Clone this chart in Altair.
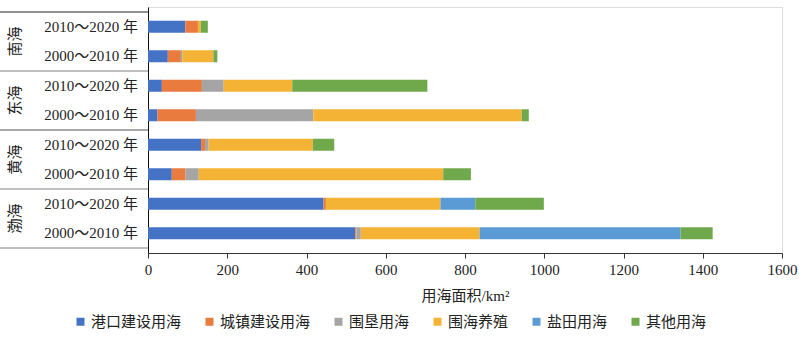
import altair as alt
import pandas as pd

# ---- data ----
regions = ["南海", "东海", "黄海", "渤海"]
periods = ["2010～2020 年", "2000～2010 年"]
categories = ["港口建设用海", "城镇建设用海", "围垦用海", "围海养殖", "盐田用海", "其他用海"]
colors = ["#4472C4", "#E97B3F", "#A5A5A5", "#F5B335", "#5B9BD5", "#70A84C"]

# rows top to bottom: 南海 2010-2020, 南海 2000-2010, 东海 ..., 黄海 ..., 渤海 ...
port = [94, 50, 35, 24, 134, 60, 443, 523]
urban = [32, 33, 101, 97, 10, 35, 6, 3]
reclaim = [0, 4, 55, 296, 9, 33, 0, 11]
aqua = [7, 78, 173, 526, 263, 617, 289, 300]
salt = [0, 0, 0, 0, 0, 0, 88, 507]
other = [18, 10, 341, 18, 54, 70, 173, 81]

x_ticks = [0, 200, 400, 600, 800, 1000, 1200, 1400, 1600]

FONT = "Liberation Serif, Noto Sans CJK SC"
series = [port, urban, reclaim, aqua, salt, other]

rows = []
lab_rows = []
for i in range(8):
    region = regions[i // 2]
    period = periods[i % 2]
    start = 0
    for k, (cat, s) in enumerate(zip(categories, series)):
        v = s[i]
        rows.append(dict(row=i + 0.5, region=region, period=period, cat=cat,
                         value=v, start=start, end=start + v, k=k))
        start += v
    lab_rows.append(dict(row=i + 0.5, period=period))
df = pd.DataFrame(rows)
df_lab = pd.DataFrame(lab_rows)
df_grp = pd.DataFrame(dict(row=[1, 3, 5, 7], region=regions))
df_sep = pd.DataFrame(dict(row=[0, 2, 4, 6, 8],
                           col=["#222222", "#808080", "#555555", "#808080", "#808080"]))

yscale = alt.Scale(domain=[0, 8], reverse=True, nice=False, zero=False)

bars = alt.Chart(df).mark_bar(size=12, orient="horizontal").encode(
    x=alt.X("start:Q",
            scale=alt.Scale(domain=[0, 1600], nice=False),
            axis=alt.Axis(values=x_ticks, format="d", title="用海面积/km²", grid=False,
                          labelFont=FONT, labelFontSize=15, labelColor="#222",
                          titleFont=FONT, titleFontSize=15, titleFontWeight="normal",
                          titleColor="#222", titlePadding=11, labelPadding=4,
                          tickSize=5, tickColor="#333", domainColor="#333",
                          labelFlush=False)),
    x2="end:Q",
    y=alt.Y("row:Q", scale=yscale,
            axis=alt.Axis(labels=False, ticks=False, grid=False, title=None,
                          domainColor="#111")),
    color=alt.Color("cat:N", scale=alt.Scale(domain=categories, range=colors),
                    legend=alt.Legend(title=None, orient="none", direction="horizontal",
                                      columns=6, columnPadding=20, legendX=-75, legendY=307,
                                      symbolType="square", symbolSize=64, symbolStrokeWidth=0,
                                      labelFont=FONT, labelFontSize=15, labelColor="#222",
                                      labelOffset=3)),
    order=alt.Order("k:Q"),
)

year_labels = alt.Chart(df_lab).mark_text(
    align="right", baseline="middle", font=FONT, fontSize=15, color="#222"
).encode(
    x=alt.value(-10),
    y=alt.Y("row:Q", scale=yscale),
    text="period:N",
)

group_labels = alt.Chart(df_grp).mark_text(
    align="center", baseline="middle", angle=270, font=FONT, fontSize=15, color="#222"
).encode(
    x=alt.value(-133),
    y=alt.Y("row:Q", scale=yscale),
    text="region:N",
)

seps = alt.Chart(df_sep).mark_rule(strokeWidth=1).encode(
    x=alt.value(-148),
    x2=alt.value(0),
    y=alt.Y("row:Q", scale=yscale),
    color=alt.Color("col:N", scale=None, legend=None),
)

chart = alt.layer(seps, bars, year_labels, group_labels).resolve_scale(
    color="independent"
).properties(
    width=634, height=246,
    padding={"left": 148, "top": 7, "right": 17, "bottom": 84},
    autosize="none",
).configure_view(stroke=None).configure(background="white")

chart.save("out.html", embed_options={"renderer": "svg", "actions": False})
